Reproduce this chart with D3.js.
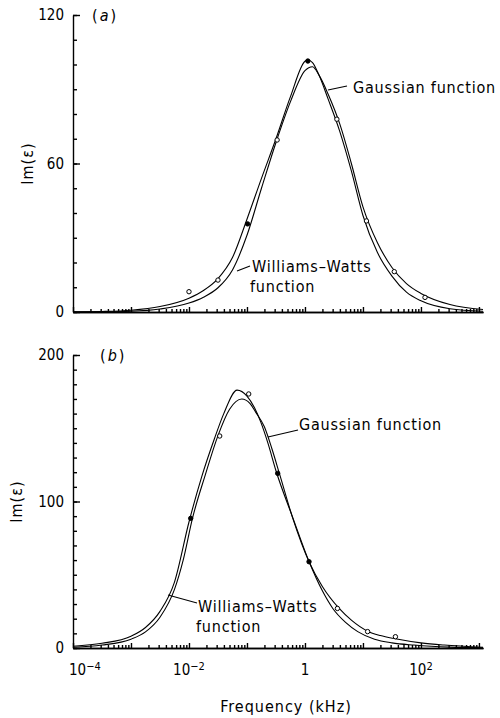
<!DOCTYPE html>
<html>
<head>
<meta charset="utf-8">
<script src="https://cdn.jsdelivr.net/npm/d3@7"></script>
<style>
  body { margin: 0; background: #fff; }
  svg { display: block; background: #fff; }
  text { font-family: "DejaVu Sans Condensed", "DejaVu Sans", sans-serif; fill: #000; }
  .axis path, .axis line { stroke: #000; stroke-width: 1.4; }
</style>
</head>
<body>
<svg id="chart"></svg>
<script>
// x positions are log10(frequency / kHz)
const xLabelExps = [-4, -2, 0, 2];

// panel (a)
const aPointLogF = [-2.0, -1.5, -0.99, -0.48, 0.05, 0.55, 1.06, 1.54, 2.07];
const aPointVal = [8.2, 12.9, 35.6, 69.5, 101.4, 77.9, 36.8, 16.3, 5.9];
const aPointFilled = [false, false, true, false, true, false, false, false, false];

const aGaussLogF = [-4, -3.5, -3, -2.5, -2, -1.75, -1.5, -1.25, -1, -0.75, -0.5, -0.25, 0, 0.05, 0.13, 0.24, 0.4, 0.6, 0.8, 1.0, 1.25, 1.5, 1.75, 2, 2.5, 3.07];
const aGaussVal = [0.05, 0.2, 0.7, 2.2, 5.6, 8.7, 13.5, 22, 37.5, 54, 70, 87, 101.3, 101.8, 100.8, 95.8, 86, 73, 57, 39, 24, 14.5, 8, 4.5, 1.3, 0.3];

const aWWLogF = [-4, -3.5, -3, -2.5, -2, -1.75, -1.5, -1.25, -1, -0.75, -0.5, -0.25, 0, 0.13, 0.24, 0.4, 0.6, 0.8, 1.0, 1.25, 1.5, 1.75, 2, 2.5, 3.07];
const aWWVal = [0.02, 0.1, 0.3, 1.2, 3.6, 6, 9.8, 17, 31, 50, 68.5, 85, 97.5, 99.1, 95.8, 88, 76, 60, 42.5, 28, 18, 11.5, 7.5, 3, 1.0];

// panel (b)
const bPointLogF = [-1.97, -1.47, -0.97, -0.47, 0.07, 0.56, 1.08, 1.56];
const bPointVal = [88.5, 144.7, 173.4, 119.2, 58.9, 27, 11.2, 7.7];
const bPointFilled = [true, false, false, true, true, false, false, false];

const bGaussLogF = [-4, -3.5, -3, -2.75, -2.5, -2.25, -2.0, -1.78, -1.56, -1.4, -1.17, -1.0, -0.87, -0.76, -0.64, -0.5, -0.21, 0.07, 0.3, 0.48, 0.7, 0.91, 1.2, 1.5, 1.88, 2.5, 3.07];
const bGaussVal = [1.2, 3.2, 8, 14, 25, 45, 86, 117, 143, 160, 176, 172, 164, 154, 140, 121, 89, 59, 39, 27, 17.5, 11.2, 6, 3.5, 2, 0.6, 0.2];

const bWWLogF = [-4, -3.5, -3, -2.75, -2.5, -2.25, -2.1, -1.94, -1.72, -1.5, -1.3, -1.09, -0.95, -0.85, -0.7, -0.57, -0.44, -0.21, 0.07, 0.3, 0.59, 0.8, 1.08, 1.3, 1.56, 2.0, 2.4, 3.07];
const bWWVal = [0.5, 2, 6, 11, 21, 40, 60, 88.5, 118, 145, 163, 170, 167, 161, 151, 136, 119, 88.5, 58.9, 42, 27, 19, 11.5, 8.5, 6.3, 3.5, 2, 0.5];

const svgWidth = 500, svgHeight = 718;
const svg = d3.select("#chart")
  .attr("width", svgWidth)
  .attr("height", svgHeight);

const x = d3.scaleLog()
  .domain([1e-4, Math.pow(10, 3.07)])
  .range([73, 483]);

const allTicks = x.ticks();
const majorTicks = allTicks.filter(d => Math.abs(Math.log10(d) - Math.round(Math.log10(d))) < 1e-9);
const minorTicks = allTicks.filter(d => !majorTicks.includes(d));

const panels = [
  { tag: "a", yTop: 15, yBottom: 312, yMax: 120, yStep: 10, yLabels: [0, 60, 120],
    gauss: [aGaussLogF, aGaussVal], ww: [aWWLogF, aWWVal],
    pts: [aPointLogF, aPointVal, aPointFilled], showX: false, yTitleX: 27 },
  { tag: "b", yTop: 355, yBottom: 648, yMax: 200, yStep: 10, yLabels: [0, 100, 200],
    gauss: [bGaussLogF, bGaussVal], ww: [bWWLogF, bWWVal],
    pts: [bPointLogF, bPointVal, bPointFilled], showX: true, yTitleX: 16 }
];

panels.forEach(p => {
  const y = d3.scaleLinear().domain([0, p.yMax]).range([p.yBottom, p.yTop]);
  const g = svg.append("g");

  // x axis: minor and major ticks pointing inward
  g.append("g")
    .attr("class", "axis")
    .attr("transform", `translate(0,${p.yBottom})`)
    .call(d3.axisBottom(x).tickValues(minorTicks).tickSize(-3).tickSizeOuter(0).tickFormat(""));
  g.append("g")
    .attr("class", "axis")
    .attr("transform", `translate(0,${p.yBottom})`)
    .call(d3.axisBottom(x).tickValues(majorTicks).tickSize(-5).tickSizeOuter(0).tickFormat(""));

  // y axis
  g.append("g")
    .attr("class", "axis")
    .attr("transform", `translate(73,0)`)
    .call(d3.axisLeft(y).tickValues(d3.range(0, p.yMax + 1, p.yStep)).tickSize(-4).tickSizeOuter(0).tickFormat(""));
  g.append("g")
    .attr("class", "axis")
    .attr("transform", `translate(73,0)`)
    .call(d3.axisLeft(y).tickValues(p.yLabels).tickSize(-7).tickSizeOuter(0).tickPadding(9).tickFormat(d3.format("d")))
    .call(ax => ax.select(".domain").remove())
    .call(ax => ax.selectAll("text").style("font-size", "15px").attr("font-family", null));

  // panel tag
  g.append("text")
    .attr("x", p.tag === "a" ? 92 : 100)
    .attr("y", p.yTop + 6)
    .style("font-size", "16px")
    .style("letter-spacing", "2px")
    .html(`(<tspan font-style="italic">${p.tag}</tspan>)`);

  // y title
  g.append("text")
    .attr("transform", `translate(${p.yTitleX},${(p.yTop + p.yBottom) / 2}) rotate(-90)`)
    .attr("text-anchor", "middle")
    .attr("dy", "0.35em")
    .style("font-size", "16px")
    .style("letter-spacing", "1px")
    .text("Im(ε)");

  // curves
  const line = d3.line()
    .x(d => x(Math.pow(10, d[0])))
    .y(d => y(d[1]))
    .curve(d3.curveMonotoneX);

  [p.gauss, p.ww].forEach(c => {
    g.append("path")
      .datum(d3.zip(c[0], c[1]))
      .attr("d", line)
      .attr("fill", "none")
      .attr("stroke", "#000")
      .attr("stroke-width", 1.1);
  });

  // data points
  g.selectAll(".pt")
    .data(d3.zip(p.pts[0], p.pts[1], p.pts[2]))
    .enter()
    .append("circle")
    .attr("class", "pt")
    .attr("cx", d => x(Math.pow(10, d[0])))
    .attr("cy", d => y(d[1]))
    .attr("r", 2.2)
    .attr("fill", d => d[2] ? "#000" : "#fff")
    .attr("stroke", "#000")
    .attr("stroke-width", 1);

  // x tick labels
  if (p.showX) {
    xLabelExps.forEach(e => {
      const t = g.append("text")
        .attr("x", x(Math.pow(10, e)))
        .attr("y", p.yBottom + 27)
        .attr("text-anchor", "middle")
        .style("font-size", "15px");
      if (e === 0) {
        t.text("1");
      } else {
        t.append("tspan").text("10");
        t.append("tspan")
          .attr("dy", "-0.5em")
          .style("font-size", "11px")
          .text(e < 0 ? "\u2212" + (-e) : String(e));
      }
      const bb = t.node().getBBox();
      if (bb.x < 69) t.attr("x", x(Math.pow(10, e)) + (69 - bb.x));
    });
  }
});

// annotations
function note(px, py, lines, x1, y1, x2, y2) {
  svg.append("line")
    .attr("x1", x1).attr("y1", y1).attr("x2", x2).attr("y2", y2)
    .attr("stroke", "#000").attr("stroke-width", 1.1);
  const t = svg.append("text")
    .attr("x", px)
    .attr("y", py)
    .style("font-size", "16px")
    .style("letter-spacing", "0.8px");
  lines.forEach((s, i) => {
    t.append("tspan").attr("x", px - (i ? 2 : 0)).attr("dy", i ? 20 : 0).text(s);
  });
}

note(353, 93, ["Gaussian function"], 328, 90, 347, 86);
note(252, 272, ["Williams\u2013Watts", "function"], 237, 271, 250, 266);
note(299, 430, ["Gaussian function"], 268, 437, 298, 430);
note(198, 612, ["Williams\u2013Watts", "function"], 168, 595, 197, 603);

svg.append("text")
  .attr("x", 286)
  .attr("y", 712)
  .attr("text-anchor", "middle")
  .style("font-size", "16px")
  .style("letter-spacing", "1px")
  .text("Frequency (kHz)");
</script>
</body>
</html>
